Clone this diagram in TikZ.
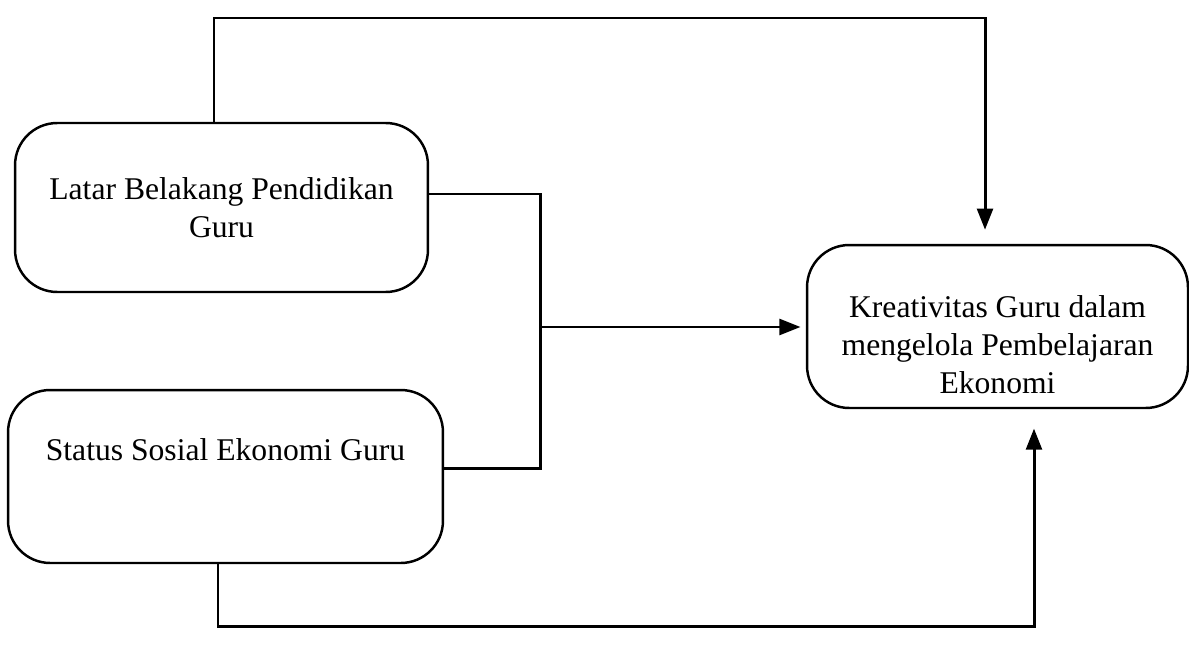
\documentclass[tikz,border=0pt]{standalone}
\usepackage{fontspec}
\setmainfont{Liberation Serif}
\usetikzlibrary{arrows.meta, calc}
\tikzset{
>={Triangle[length=12pt,width=9pt]}, % filled arrow heads
kotak/.style={draw, line width=1.4pt, rounded corners=24pt, align=center,
  font=\fontsize{18}{21.5}\selectfont}, % sets the look of every box
garis/.style={line width=1.7pt}, % sets the look of the connectors
}

\begin{document}
\begin{tikzpicture}[x=0.02cm, y=-0.02cm]
    \useasboundingbox (0,0) rectangle (1189,659);
    \node[kotak, minimum width=8.26cm, minimum height=3.38cm] (lbp) at (221.5,207.5) {Latar Belakang Pendidikan\\Guru};
    \node[kotak, minimum width=8.7cm, minimum height=3.46cm, text height=13pt, text depth=31.7pt] (sse) at (225.5,476.5) {Status Sosial Ekonomi Guru};
    \node[kotak, minimum width=7.62cm, minimum height=3.26cm, text height=76pt] (kreatif) at (997.5,326.5) {Kreativitas Guru dalam\\mengelola Pembelajaran\\Ekonomi};
    \coordinate (atas) at (600,18);
    \coordinate (g1) at (540,194);
    \coordinate (g2) at (540,468);
    \coordinate (gabung) at (540,327);
    \coordinate (bawah) at (600,626);
    \draw[garis, ->, shorten >=8pt] ([xshift=-0.15cm]lbp.north) |- (atas) -| ([xshift=-0.25cm]kreatif.north);
    \draw[garis] (lbp.east |- g1) -- (g1) -- (g2) -- (sse.east |- g2);
    \draw[garis, ->, shorten >=3pt] (gabung) -- (kreatif.west |- gabung);
    \draw[garis, ->, shorten >=11pt] ([xshift=-0.15cm]sse.south) |- (bawah) -| ([xshift=0.73cm]kreatif.south);
\end{tikzpicture}
\end{document}
